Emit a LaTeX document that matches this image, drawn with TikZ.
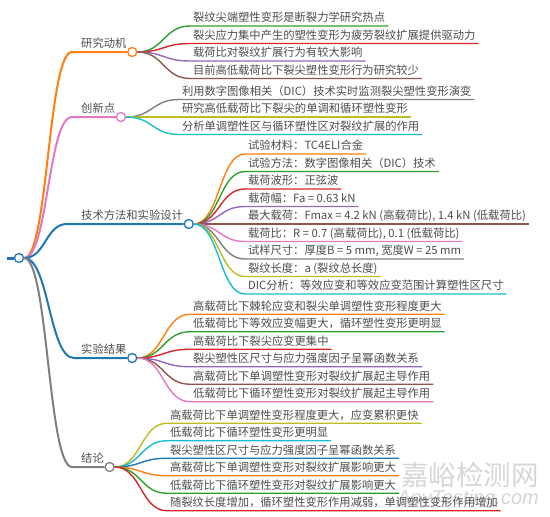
\documentclass[tikz,border=0pt]{standalone}
\usepackage{fontspec}
\setmainfont{Noto Sans CJK SC}
\newfontfamily\wmfont{Liberation Sans}
\usetikzlibrary{calc,backgrounds}
\definecolor{cBlue}{HTML}{1F77B4}
\definecolor{cOrange}{HTML}{FF7F0E}
\definecolor{cGreen}{HTML}{2CA02C}
\definecolor{cRed}{HTML}{D62728}
\definecolor{cPurple}{HTML}{9467BD}
\definecolor{cBrown}{HTML}{8C564B}
\definecolor{cPink}{HTML}{E377C2}
\definecolor{cGray}{HTML}{7F7F7F}
\definecolor{cOlive}{HTML}{BCBD22}
\definecolor{cCyan}{HTML}{17BECF}
\definecolor{txt}{HTML}{4D4D4D}
\definecolor{wm}{HTML}{D6D6D6}
\newcommand{\kidlink}[3]{%
  \draw[kidline,#1] let \p1=(#2.east), \p2=(#3.south west) in
    (\p1) .. controls ({(\x1+\x2)/2},\y1) and ({(\x1+\x2)/2},\y2) .. (\p2) -- (#3.south east);}
\newcommand{\toplink}[4]{%
  \draw[topline,#1] let \p1=(root.east), \p2=(#2) in
    (\p1) .. controls ({(\x1+\x2)/2},\y1) and ({(\x1+\x2)/2},\y2) .. (\p2) -- (#3.west);}
\begin{document}
\begin{tikzpicture}[x=1pt,y=-1pt,
  lbl/.style={anchor=south west, inner ysep=1.6pt, text height=8.6pt, text depth=2.4pt,
    font=\fontsize{11.3}{13}\selectfont, text=txt},
  toptext/.style={lbl, inner xsep=0pt},
  kid/.style={lbl, inner xsep=2.8pt},
  dot/.style={circle, draw, fill=white, minimum size=9pt, inner sep=0pt, line width=1.3pt},
  kidline/.style={line width=1.4pt},
  topline/.style={line width=2pt},
  wmtext/.style={text=wm, inner sep=0pt}]
\useasboundingbox (0,0) rectangle (550,517);

% root
\node[dot, draw=cBlue] (root) at (19,258) {};
\coordinate (rs) at (7,258);

% level 1
\coordinate (k1) at (72,52);
\node[toptext] (t1) at (81,52) {研究动机};
\node[dot, draw=cOrange, anchor=west] (m1) at ([xshift=0.5pt]t1.south east) {};
\coordinate (k2) at (72,117);
\node[toptext] (t2) at (81,117) {创新点};
\node[dot, draw=cPink, anchor=west] (m2) at ([xshift=0.5pt]t2.south east) {};
\coordinate (k3) at (67,224);
\node[toptext] (t3) at (81,224) {技术方法和实验设计};
\node[dot, draw=cBlue, anchor=west] (m3) at ([xshift=0.5pt]t3.south east) {};
\coordinate (k4) at (74,358);
\node[toptext] (t4) at (81,358) {实验结果};
\node[dot, draw=cBlue, anchor=west] (m4) at ([xshift=0.5pt]t4.south east) {};
\coordinate (k5) at (72,467);
\node[toptext] (t5) at (81,467) {结论};
\node[dot, draw=cGray, anchor=west] (m5) at ([xshift=0.5pt]t5.south east) {};

% children of 研究动机
\node[kid] (a1) at (190,26) {裂纹尖端塑性变形是断裂力学研究热点};
\node[kid] (a2) at (190,43.5) {裂尖应力集中产生的塑性变形为疲劳裂纹扩展提供驱动力};
\node[kid] (a3) at (190,61) {载荷比对裂纹扩展行为有较大影响};
\node[kid] (a4) at (190,78.5) {目前高低载荷比下裂尖塑性变形行为研究较少};
% children of 创新点
\node[kid] (b1) at (179,99.5) {利用数字图像相关（DIC）技术实时监测裂尖塑性变形演变};
\node[kid] (b2) at (179,117) {研究高低载荷比下裂尖的单调和循环塑性变形};
\node[kid] (b3) at (179,134.5) {分析单调塑性区与循环塑性区对裂纹扩展的作用};
% children of 技术方法和实验设计
\node[kid] (c1) at (245,154) {试验材料：TC4ELI合金};
\node[kid] (c2) at (245,171.5) {试验方法：数字图像相关（DIC）技术};
\node[kid] (c3) at (245,189) {载荷波形：正弦波};
\node[kid] (c4) at (245,206.5) {载荷幅：Fa = 0.63 kN};
\node[kid] (c5) at (245,224) {最大载荷：Fmax = 4.2 kN (高载荷比), 1.4 kN (低载荷比)};
\node[kid] (c6) at (245,241.5) {载荷比：R = 0.7 (高载荷比), 0.1 (低载荷比)};
\node[kid] (c7) at (245,259) {试样尺寸：厚度B = 5 mm, 宽度W = 25 mm};
\node[kid] (c8) at (245,276.5) {裂纹长度：a (裂纹总长度)};
\node[kid] (c9) at (245,294) {DIC分析：等效应变和等效应变范围计算塑性区尺寸};
% children of 实验结果
\node[kid] (d1) at (190,314.25) {高载荷比下棘轮应变和裂尖单调塑性变形程度更大};
\node[kid] (d2) at (190,331.75) {低载荷比下等效应变幅更大，循环塑性变形更明显};
\node[kid] (d3) at (190,349.25) {高载荷比下裂尖应变更集中};
\node[kid] (d4) at (190,366.75) {裂尖塑性区尺寸与应力强度因子呈幂函数关系};
\node[kid] (d5) at (190,384.25) {高载荷比下单调塑性变形对裂纹扩展起主导作用};
\node[kid] (d6) at (190,401.75) {低载荷比下循环塑性变形对裂纹扩展起主导作用};
% children of 结论
\node[kid] (e1) at (167,423.25) {高载荷比下单调塑性变形程度更大，应变累积更快};
\node[kid] (e2) at (167,440.75) {低载荷比下循环塑性变形更明显};
\node[kid] (e3) at (167,458.25) {裂尖塑性区尺寸与应力强度因子呈幂函数关系};
\node[kid] (e4) at (167,475.75) {高载荷比下单调塑性变形对裂纹扩展影响更大};
\node[kid] (e5) at (167,493.25) {低载荷比下循环塑性变形对裂纹扩展影响更大};
\node[kid] (e6) at (167,510.75) {随裂纹长度增加，循环塑性变形作用减弱，单调塑性变形作用增加};

\begin{scope}[on background layer]
  % watermark
  \node[wmtext, anchor=east] (wm1) at (539,475) {\fontsize{27.5}{28}\selectfont 嘉峪检测网};
  \node[wmtext, anchor=east] (wm2) at (539,499) {\wmfont\itshape\fontsize{20}{20}\selectfont AnyTesting.com};
  % root stub
  \draw[cBlue, line width=3pt] (rs) -- (root.west);
  % level-1 links
  \toplink{cOrange}{k1}{m1}{}
  \toplink{cPink}{k2}{m2}{}
  \toplink{cBlue}{k3}{m3}{}
  \toplink{cBlue}{k4}{m4}{}
  \toplink{cGray}{k5}{m5}{}
  % level-2 links
  \kidlink{cGreen}{m1}{a1}
  \kidlink{cRed}{m1}{a2}
  \kidlink{cPurple}{m1}{a3}
  \kidlink{cBrown}{m1}{a4}
  \kidlink{cGray}{m2}{b1}
  \kidlink{cOlive}{m2}{b2}
  \kidlink{cCyan}{m2}{b3}
  \kidlink{cOrange}{m3}{c1}
  \kidlink{cGreen}{m3}{c2}
  \kidlink{cRed}{m3}{c3}
  \kidlink{cPurple}{m3}{c4}
  \kidlink{cBrown}{m3}{c5}
  \kidlink{cPink}{m3}{c6}
  \kidlink{cGray}{m3}{c7}
  \kidlink{cOlive}{m3}{c8}
  \kidlink{cCyan}{m3}{c9}
  \kidlink{cOrange}{m4}{d1}
  \kidlink{cGreen}{m4}{d2}
  \kidlink{cRed}{m4}{d3}
  \kidlink{cPurple}{m4}{d4}
  \kidlink{cBrown}{m4}{d5}
  \kidlink{cPink}{m4}{d6}
  \kidlink{cOlive}{m5}{e1}
  \kidlink{cCyan}{m5}{e2}
  \kidlink{cBlue}{m5}{e3}
  \kidlink{cOrange}{m5}{e4}
  \kidlink{cGreen}{m5}{e5}
  \kidlink{cRed}{m5}{e6}
\end{scope}
\end{tikzpicture}
\end{document}
